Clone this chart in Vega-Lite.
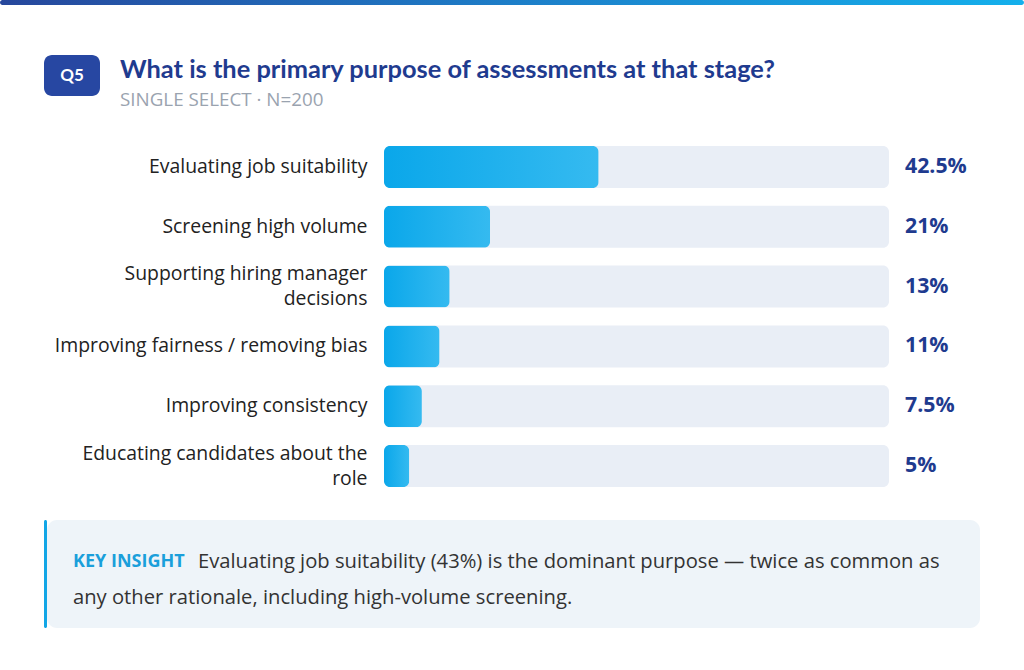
{
  "$schema": "https://vega.github.io/schema/vega-lite/v6.json",
  "padding": 0,
  "background": "white",
  "config": {"view": {"stroke": null}},
  "title": {
    "text": "What is the primary purpose of assessments at that stage?",
    "subtitle": "SINGLE SELECT · N=200",
    "anchor": "start",
    "frame": "group",
    "dx": 120,
    "offset": -110,
    "font": "Lato",
    "fontSize": 25.4,
    "fontWeight": "bold",
    "color": "#1f3b8f",
    "subtitleFont": "Open Sans",
    "subtitleFontSize": 18.8,
    "subtitleColor": "#9aa3af",
    "subtitlePadding": 8,
    "subtitleFontWeight": "normal"
  },
  "spacing": 50,
  "vconcat": [
    {
      "width": 1024,
      "height": 5,
      "data": {"values": [{"part": "stripe"}]},
      "mark": {
        "type": "rect",
        "cornerRadius": 3,
        "color": {"gradient": "linear", "x1": 0, "y1": 0, "x2": 1, "y2": 0,
          "stops": [{"offset": 0, "color": "#27479c"}, {"offset": 0.5, "color": "#1d7ec8"}, {"offset": 1, "color": "#14b0ec"}]}
      },
      "encoding": {}
    },
    {
      "spacing": 0,
      "vconcat": [
        {
          "spacing": 20,
          "hconcat": [
            {
              "width": 24, "height": 41,
              "data": {"values": [{"part": "spacer"}]},
              "mark": {"type": "rect", "opacity": 0},
              "encoding": {}
            },
            {
              "width": 56, "height": 41,
              "view": {"fill": "#2747a2", "cornerRadius": 8},
              "data": {"values": [{"badge": "Q5"}]},
              "mark": {"type": "text", "color": "white", "font": "Lato", "fontWeight": "bold", "fontSize": 17, "align": "center", "baseline": "middle"},
              "encoding": {"text": {"field": "badge"}}
            }
          ]
        },
        {
          "width": 1024,
          "height": 424,
          "data": {"values": [
            {"purpose": "Evaluating job suitability", "share": 0.425},
            {"purpose": "Screening high volume", "share": 0.21},
            {"purpose": "Supporting hiring manager decisions", "share": 0.13},
            {"purpose": "Improving fairness / removing bias", "share": 0.11},
            {"purpose": "Improving consistency", "share": 0.075},
            {"purpose": "Educating candidates about the role", "share": 0.05}
          ]},
          "encoding": {
            "y": {
              "field": "purpose", "type": "nominal", "sort": null,
              "scale": {"range": [50, 391], "paddingInner": 0.2977, "paddingOuter": 0},
              "axis": {
                "title": null, "domain": false, "ticks": false, "offset": -367, "labelPadding": 0,
                "labelFont": "Open Sans", "labelFontSize": 19.4, "labelColor": "#222222", "labelLimit": 400,
                "labelLineHeight": 25,
                "labelOffset": {"condition": {"test": "indexof(['Supporting hiring manager decisions', 'Educating candidates about the role'], datum.value) >= 0", "value": -12.5}, "value": 0},
                "labelExpr": "datum.label == 'Supporting hiring manager decisions' ? ['Supporting hiring manager', 'decisions'] : datum.label == 'Educating candidates about the role' ? ['Educating candidates about the', 'role'] : datum.label"
              }
            }
          },
          "layer": [
            {
              "mark": {"type": "bar", "color": "#e9eef6", "cornerRadius": 6},
              "encoding": {
                "x": {"datum": 0, "type": "quantitative", "scale": {"domain": [0, 1], "range": [384, 889]}, "axis": null},
                "x2": {"datum": 1}
              }
            },
            {
              "mark": {
                "type": "bar", "cornerRadius": 6,
                "color": {"gradient": "linear", "x1": 0, "y1": 0, "x2": 1, "y2": 0,
                  "stops": [{"offset": 0, "color": "#0aa7ea"}, {"offset": 1, "color": "#35baf0"}]}
              },
              "encoding": {
                "x": {"field": "share", "type": "quantitative"}
              }
            },
            {
              "mark": {"type": "text", "align": "left", "baseline": "middle", "dx": 16, "font": "Open Sans", "fontWeight": "bold", "fontSize": 21.3, "color": "#1f3b8f"},
              "encoding": {
                "x": {"datum": 1, "type": "quantitative"},
                "text": {"field": "share", "type": "quantitative", "format": ".1~%"}
              }
            }
          ]
        },
        {
          "spacing": 0,
          "hconcat": [
            {
              "width": 44, "height": 108,
              "data": {"values": [{"part": "spacer"}]},
              "mark": {"type": "rect", "opacity": 0},
              "encoding": {}
            },
            {
              "width": 3, "height": 108,
              "view": {"fill": "#12a6e6", "cornerRadius": 2},
              "data": {"values": [{"part": "accent"}]},
              "mark": {"type": "rect", "opacity": 0},
              "encoding": {}
            },
            {
              "width": 933, "height": 108,
              "view": {"fill": "#eef4f9", "cornerRadius": 10},
              "data": {"values": [
                {"line": 1, "lead": "KEY INSIGHT", "text": "Evaluating job suitability (43%) is the dominant purpose — twice as common as"},
                {"line": 2, "lead": "", "text": "any other rationale, including high-volume screening."}
              ]},
              "encoding": {
                "y": {"field": "line", "type": "ordinal", "scale": {"range": [42, 78], "padding": 0}, "axis": null}
              },
              "layer": [
                {
                  "mark": {"type": "text", "align": "left", "baseline": "middle", "x": 26, "font": "Open Sans", "fontWeight": "bold", "fontSize": 18, "letterSpacing": 2.4, "color": "#1a9fdb"},
                  "encoding": {"text": {"field": "lead"}}
                },
                {
                  "transform": [{"filter": "datum.line == 1"}],
                  "mark": {"type": "text", "align": "left", "baseline": "middle", "x": 151, "font": "Open Sans", "fontSize": 20.2, "color": "#333333"},
                  "encoding": {"text": {"field": "text"}}
                },
                {
                  "transform": [{"filter": "datum.line == 2"}],
                  "mark": {"type": "text", "align": "left", "baseline": "middle", "x": 26, "font": "Open Sans", "fontSize": 20.2, "color": "#333333"},
                  "encoding": {"text": {"field": "text"}}
                }
              ]
            }
          ]
        }
      ]
    }
  ]
}
